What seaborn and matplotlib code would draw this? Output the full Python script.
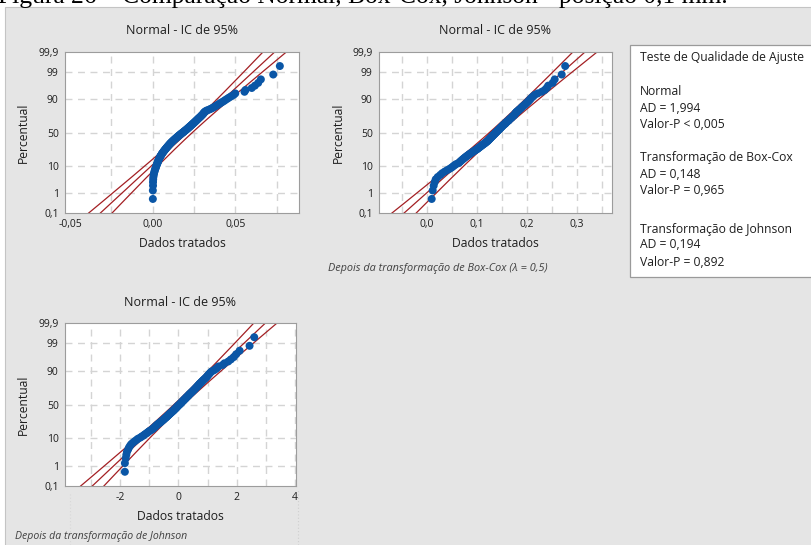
import numpy as np
import pandas as pd
import seaborn as sns
import matplotlib
matplotlib.use("Agg")
import matplotlib.pyplot as plt
from matplotlib.patches import Rectangle
from statistics import NormalDist

dados_normal = [
    0.0001, 0.0001, 0.0002, 0.0002, 0.0003, 0.0004, 0.0006, 0.0008, 0.0011, 0.0013,
    0.0016, 0.0019, 0.0021, 0.0024, 0.0026, 0.0029, 0.0031, 0.0033, 0.0035, 0.0037,
    0.0040, 0.0042, 0.0045, 0.0047, 0.0050, 0.0053, 0.0055, 0.0058, 0.0061, 0.0064,
    0.0067, 0.0070, 0.0073, 0.0076, 0.0079, 0.0082, 0.0085, 0.0088, 0.0091, 0.0094,
    0.0097, 0.0100, 0.0103, 0.0106, 0.0109, 0.0112, 0.0116, 0.0119, 0.0122, 0.0126,
    0.0129, 0.0133, 0.0136, 0.0140, 0.0143, 0.0147, 0.0150, 0.0154, 0.0157, 0.0161,
    0.0165, 0.0169, 0.0172, 0.0176, 0.0180,
    0.0184, 0.0188, 0.0191, 0.0195, 0.0199, 0.0203, 0.0206, 0.0210, 0.0213, 0.0217,
    0.0220, 0.0224, 0.0227, 0.0231, 0.0234, 0.0238, 0.0241, 0.0245, 0.0248, 0.0252,
    0.0255, 0.0259, 0.0262, 0.0266, 0.0269, 0.0273, 0.0276, 0.0280, 0.0284, 0.0288,
    0.0292, 0.0295, 0.0299, 0.0303, 0.0306, 0.0309, 0.0312, 0.0316, 0.0322, 0.0330,
    0.0342, 0.0352, 0.0361, 0.0370, 0.0378, 0.0386, 0.0395, 0.0403, 0.0412, 0.0422,
    0.0432, 0.0441, 0.0452, 0.0463, 0.0476, 0.0490, 0.0500, 0.0556, 0.0562, 0.0600,
    0.0619, 0.0639, 0.0655, 0.0730, 0.0770,
]

dados_boxcox = [
    0.010, 0.012, 0.014, 0.016, 0.018, 0.022, 0.027, 0.031, 0.036, 0.041,
    0.046, 0.050, 0.053, 0.056, 0.059, 0.064, 0.066, 0.068, 0.070, 0.072,
    0.074, 0.076, 0.078, 0.080, 0.082, 0.084, 0.086, 0.088, 0.090, 0.092,
    0.094, 0.096, 0.098, 0.100, 0.102, 0.103, 0.105, 0.106, 0.108, 0.109,
    0.111, 0.112, 0.114, 0.115, 0.117, 0.118, 0.119, 0.121, 0.122, 0.123,
    0.124, 0.125, 0.126, 0.127, 0.128, 0.129, 0.130, 0.131, 0.132, 0.133,
    0.134, 0.135, 0.136, 0.137, 0.138,
    0.139, 0.140, 0.141, 0.142, 0.143, 0.144, 0.145, 0.146, 0.147, 0.148,
    0.149, 0.150, 0.151, 0.152, 0.153, 0.154, 0.156, 0.157, 0.158, 0.159,
    0.160, 0.161, 0.163, 0.164, 0.165, 0.166, 0.167, 0.169, 0.170, 0.171,
    0.172, 0.174, 0.175, 0.176, 0.177, 0.178, 0.179, 0.180, 0.182, 0.184,
    0.185, 0.187, 0.189, 0.190, 0.192, 0.194, 0.196, 0.198, 0.200, 0.202,
    0.204, 0.206, 0.208, 0.210, 0.213, 0.216, 0.222, 0.230, 0.236, 0.240,
    0.243, 0.252, 0.256, 0.270, 0.277,
]

dados_johnson = [
    -1.83, -1.83, -1.80, -1.78, -1.76, -1.72, -1.69, -1.65, -1.61, -1.55,
    -1.49, -1.43, -1.38, -1.30, -1.25, -1.19, -1.15, -1.10, -1.06, -1.02,
    -0.98, -0.93, -0.89, -0.86, -0.83, -0.80, -0.78, -0.75, -0.73, -0.70,
    -0.67, -0.64, -0.61, -0.59, -0.56, -0.54, -0.51, -0.49, -0.47, -0.45,
    -0.42, -0.40, -0.38, -0.36, -0.34, -0.32, -0.30, -0.28, -0.26, -0.24,
    -0.22, -0.20, -0.18, -0.16, -0.14, -0.13, -0.11, -0.09, -0.07, -0.06,
    -0.04, -0.02, -0.01, 0.01, 0.03,
    0.05, 0.07, 0.08, 0.10, 0.12, 0.13, 0.15, 0.17, 0.19, 0.20,
    0.22, 0.24, 0.26, 0.27, 0.29, 0.31, 0.33, 0.35, 0.36, 0.38,
    0.40, 0.42, 0.44, 0.46, 0.48, 0.50, 0.52, 0.54, 0.56, 0.58,
    0.60, 0.62, 0.64, 0.66, 0.68, 0.70, 0.72, 0.74, 0.77, 0.79,
    0.82, 0.84, 0.87, 0.90, 0.93, 0.96, 0.99, 1.01, 1.04, 1.07,
    1.10, 1.14, 1.22, 1.28, 1.33, 1.38, 1.52, 1.58, 1.71, 1.80,
    1.90, 1.98, 2.10, 2.44, 2.60,
]

percent_ticks = [0.1, 1, 10, 50, 90, 99, 99.9]
percent_labels = ["0,1", "1", "10", "50", "90", "99", "99,9"]

xt_normal = [-0.05, 0.00, 0.05]
xl_normal = ["-0,05", "0,00", "0,05"]
xt_boxcox = [0.0, 0.1, 0.2, 0.3]
xl_boxcox = ["0,0", "0,1", "0,2", "0,3"]
xt_johnson = [-2, 0, 2, 4]
xl_johnson = ["-2", "0", "2", "4"]

titulo = "Normal - IC de 95%"
xlabel = "Dados tratados"
ylabel = "Percentual"
legenda_titulo = "Teste de Qualidade de Ajuste"
legenda_linhas = [
    ("Normal", 91), ("AD = 1,994", 108), ("Valor-P < 0,005", 124),
    ("Transformação de Box-Cox", 157), ("AD = 0,148", 174), ("Valor-P = 0,965", 190),
    ("Transformação de Johnson", 229), ("AD = 0,194", 245), ("Valor-P = 0,892", 262),
]
caption = "Figura 26 – Comparação Normal, Box-Cox, Johnson - posição 0,1 mm."

# ---------------- style ----------------
W, H = 812, 545
sns.set_theme(style="white")
plt.rcParams['font.family'] = ['Open Sans', 'DejaVu Sans']

BLUE = '#0A56A6'
RED = '#A31F23'
TXT = '#1E1E1E'
GRID = '#D4D4D4'

ND = NormalDist()

fig = plt.figure(figsize=(W / 100, H / 100), dpi=100, facecolor='white')


def fx(x):
    return x / W


def fy(y):
    return 1 - y / H


fig.patches.append(Rectangle((fx(5), -0.01), 1.0, fy(7) + 0.01, transform=fig.transFigure,
                             facecolor='#E5E5E5', edgecolor='#C4C4C4', lw=0.8, zorder=-10))
fig.text(-0.002, fy(3.5), caption, fontfamily='Liberation Serif', fontsize=18.4,
         va='baseline', ha='left', color='black', zorder=5)

zlim = ND.inv_cdf(0.999)
ytick_pos = [ND.inv_cdf(p / 100) for p in percent_ticks]


def prob_plot(rect, data, xlim, xticks, xlabels, xminor, title_y, xlab_y, ylab_x):
    ax = fig.add_axes(rect)
    ax.set_facecolor('white')
    v = np.array(data, dtype=float)
    n = len(v)
    ranks = np.arange(1, n + 1)
    z = np.array([ND.inv_cdf((i - 0.3) / (n + 0.4)) for i in ranks])
    mu = v.mean()
    sd = v.std(ddof=1)
    zz = np.linspace(-4.5, 4.5, 300)
    xfit = mu + sd * zz
    se = sd * np.sqrt((1 + zz ** 2 / 2) / n)
    lines = pd.DataFrame({'fit': xfit, 'lo': xfit - 1.96 * se, 'hi': xfit + 1.96 * se, 'z': zz})
    # grid
    for gx in xminor:
        ax.axvline(gx, color=GRID, lw=1.0, ls=(0, (5, 4)), zorder=0)
    for gz in ytick_pos[1:-1]:
        ax.axhline(gz, color=GRID, lw=1.0, ls=(0, (5, 4)), zorder=0)
    for col in ['lo', 'fit', 'hi']:
        sns.lineplot(data=lines, x=col, y='z', ax=ax, color=RED, lw=0.9, sort=False,
                     estimator=None, zorder=2)
    pts = pd.DataFrame({'x': v, 'z': z})
    sns.scatterplot(data=pts, x='x', y='z', ax=ax, color=BLUE, s=33, edgecolor='none',
                    linewidth=0, zorder=3)
    ax.set_xlim(*xlim)
    ax.set_ylim(-zlim, zlim)
    ax.set_yticks(ytick_pos)
    ax.set_yticklabels(percent_labels)
    ax.set_xticks(xticks)
    ax.set_xticklabels(xlabels)
    ax.set_xlabel('')
    ax.set_ylabel('')
    ax.tick_params(axis='both', labelsize=7.5, colors='#8A8A8A', labelcolor=TXT, length=2.5,
                   width=0.6, pad=1.5, direction='out')
    ax.tick_params(axis='y', pad=2)
    for s in ax.spines.values():
        s.set_color('#9C9C9C')
        s.set_linewidth(0.8)
        s.set_visible(True)
    pos = ax.get_position()
    cx = pos.x0 + pos.width / 2
    cy = pos.y0 + pos.height / 2
    fig.text(cx, fy(title_y), titulo, ha='center', va='center', fontsize=9, color=TXT)
    fig.text(cx, fy(xlab_y), xlabel, ha='center', va='center', fontsize=8.7, color=TXT)
    fig.text(fx(ylab_x), cy, ylabel, ha='center', va='center', rotation=90, fontsize=8.7,
             color=TXT)
    return ax


ax1 = prob_plot([fx(65), fy(213), fx(234), 161 / H], dados_normal, (-0.0531, 0.0886),
                xt_normal, xl_normal, [-0.025, 0.0, 0.025, 0.05, 0.075], 30, 243, 23)
ax2 = prob_plot([fx(379), fy(213), fx(233), 161 / H], dados_boxcox, (-0.0954, 0.3706),
                xt_boxcox, xl_boxcox, [-0.05, 0.0, 0.05, 0.1, 0.15, 0.2, 0.25, 0.3, 0.35],
                30, 243, 338)
ax3 = prob_plot([fx(65), fy(486), fx(231), 163 / H], dados_johnson, (-3.88, 4.03),
                xt_johnson, xl_johnson, [-3, -2, -1, 0, 1, 2, 3, 4], 302, 516, 23)

fig.text(fx(328), fy(268), "Depois da transformação de Box-Cox (λ = 0,5)", fontsize=7.8,
         style='italic', color='#404040', ha='left', va='center')
fig.text(fx(15), fy(537), "Depois da transformação de Johnson", fontsize=7.6,
         style='italic', color='#404040', ha='left', va='center')

# faint layout guides seen in the reference
fig.add_artist(plt.Line2D([fx(298), fx(298)], [0, fy(490)], transform=fig.transFigure,
                          color='#CFCFCF', lw=0.8, ls=(0, (1, 2))))
fig.add_artist(plt.Line2D([fx(70), fx(70)], [0, fy(493)], transform=fig.transFigure,
                          color='#D8D8D8', lw=0.8, ls=(0, (1, 2))))

# goodness-of-fit box
fig.patches.append(Rectangle((fx(630), fy(277)), 0.3, (277 - 45) / H, transform=fig.transFigure,
                             facecolor='white', edgecolor='#9A9A9A', lw=0.9, zorder=1))
fig.text(fx(640), fy(58), legenda_titulo, fontsize=8.7, color=TXT, ha='left', va='center',
         zorder=2)
for txt, yy in legenda_linhas:
    fig.text(fx(640), fy(yy), txt, fontsize=8.7, color=TXT, ha='left', va='center', zorder=2)

fig.savefig('out.png', dpi=100, facecolor=fig.get_facecolor())
